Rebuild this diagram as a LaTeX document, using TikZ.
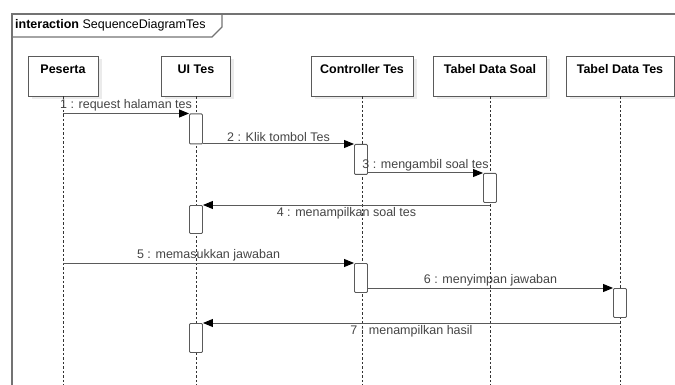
\documentclass[tikz,border=0pt]{standalone}
\usepackage{fontspec}
\setmainfont{Liberation Sans}
\usetikzlibrary{arrows.meta,shadows}
\definecolor{linegray}{HTML}{5A5A5A}
\definecolor{textgray}{HTML}{444444}

\begin{document}
\begin{tikzpicture}[x=1pt,y=-1pt]
\tikzstyle{lifehead} = [rectangle, draw=linegray, fill=white, line width=0.9pt, minimum height=40pt, inner sep=0pt, text height=18pt, text depth=22pt, font=\fontsize{12.5}{14}\selectfont\bfseries, copy shadow={shadow xshift=3.5pt, shadow yshift=-3.5pt, fill=black!8, draw=none}]
\tikzstyle{lifeline} = [draw=black!80, dash pattern=on 2.5pt off 2pt, line width=0.8pt]
\tikzstyle{activation} = [rectangle, rounded corners=1pt, draw=linegray, fill=white, line width=0.9pt, minimum width=13pt, inner sep=0pt]
\tikzstyle{msg} = [draw=linegray, line width=1pt, >={Triangle[length=10pt,width=8pt,color=black]}, ->]
\tikzstyle{msglabel} = [text=textgray, font=\fontsize{12.5}{14}\selectfont, inner sep=1.5pt]
\tikzstyle{frameline} = [draw=black!55, line width=1.2pt]

\useasboundingbox (0,0) rectangle (675,385);

\draw[frameline] (12,386) -- (12,14) -- (676,14);
\draw[frameline] (12,37) -- (212,37) -- (222,27) -- (222,14);
\node(frameTitle) [anchor=west, font=\fontsize{12.5}{14}\selectfont, inner sep=0pt] at (15,25.5) {\textbf{interaction} SequenceDiagramTes};

\node(peserta) [lifehead, minimum width=70pt] at (63,76) {Peserta};
\node(uiTes) [lifehead, minimum width=69pt] at (196,76) {UI Tes};
\node(controller) [lifehead, minimum width=102pt] at (362,76) {Controller Tes};
\node(dataSoal) [lifehead, minimum width=113pt] at (490,76) {Tabel Data Soal};
\node(dataTes) [lifehead, minimum width=108pt] at (620,76) {Tabel Data Tes};

\coordinate(pesertaEnd) at (63,386);
\coordinate(uiTesEnd) at (196,386);
\coordinate(controllerEnd) at (362,386);
\coordinate(dataSoalEnd) at (490,386);
\coordinate(dataTesEnd) at (620,386);
\draw[lifeline] (peserta) -- (pesertaEnd);
\draw[lifeline] (uiTes) -- (uiTesEnd);
\draw[lifeline] (controller) -- (controllerEnd);
\draw[lifeline] (dataSoal) -- (dataSoalEnd);
\draw[lifeline] (dataTes) -- (dataTesEnd);

\node(actUi1) [activation, minimum height=30pt, anchor=north] at (196,113.5) {};
\node(actCtrl1) [activation, minimum height=30pt, anchor=north] at (361,144) {};
\node(actSoal) [activation, minimum height=29pt, anchor=north] at (490,173) {};
\node(actUi2) [activation, minimum height=28pt, anchor=north] at (196,205) {};
\node(actCtrl2) [activation, minimum height=29pt, anchor=north] at (361,263) {};
\node(actTes) [activation, minimum height=29pt, anchor=north] at (620,288) {};
\node(actUi3) [activation, minimum height=29pt, anchor=north] at (196,323) {};

\draw[msg] (actUi1.north west -| peserta) -- node[msglabel, above] {1 : request halaman tes} (actUi1.north west);
\draw[msg] (actCtrl1.north west -| actUi1.east) -- node[msglabel, above] {2 : Klik tombol Tes} (actCtrl1.north west);
\draw[msg] (actSoal.north west -| actCtrl1.east) -- node[msglabel, above] {3 : mengambil soal tes} (actSoal.north west);
\draw[msg] (actUi2.north east -| dataSoal) -- node[msglabel, below] {4 : menampilkan soal tes} (actUi2.north east);
\draw[msg] (actCtrl2.north west -| peserta) -- node[msglabel, above] {5 : memasukkan jawaban} (actCtrl2.north west);
\draw[msg] (actTes.north west -| actCtrl2.east) -- node[msglabel, above] {6 : menyimpan jawaban} (actTes.north west);
\draw[msg] (actUi3.north east -| dataTes) -- node[msglabel, below] {7 : menampilkan hasil} (actUi3.north east);
\end{tikzpicture}
\end{document}
